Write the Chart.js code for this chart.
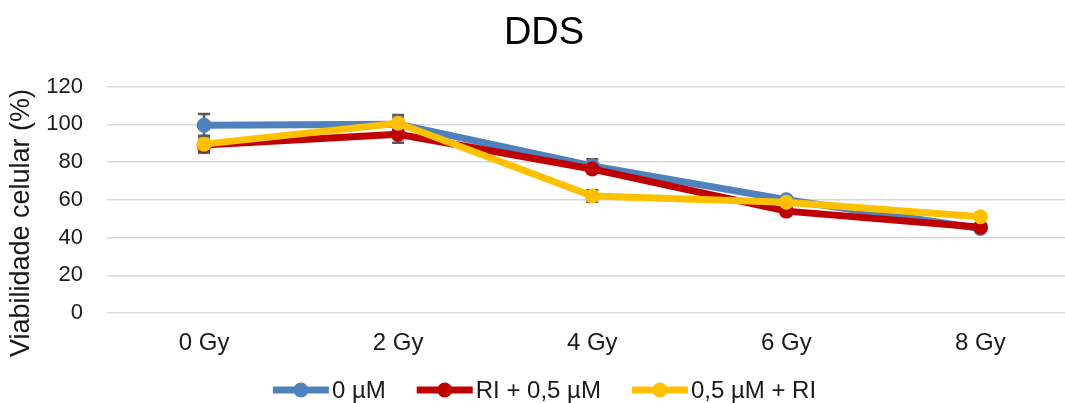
<!DOCTYPE html>
<html lang="pt">
<head>
<meta charset="utf-8">
<title>DDS</title>
<script src="https://cdn.jsdelivr.net/npm/chart.js@4/dist/chart.umd.min.js"></script>
<style>
  html, body { margin: 0; padding: 0; background: #ffffff; overflow: hidden; }
  #wrap { width: 1085px; height: 403px; }
</style>
</head>
<body>
<div id="wrap"><canvas id="chart" width="1085" height="403"></canvas></div>
<script>
// Dose categories and viability (%) per treatment group
const categories = ['0 Gy', '2 Gy', '4 Gy', '6 Gy', '8 Gy'];
const seriesNames = ['0 µM', 'RI + 0,5 µM', '0,5 µM + RI'];
const yAxisTitle = 'Viabilidade celular (%)';

const control      = [99.5, 100, 78, 60, 44.8];
const riThenDrug   = [89, 94.7, 76.3, 54, 45.5];
const drugThenRi   = [89.5, 100.6, 62, 58.7, 51];

// Standard deviations (±) for the error bars
const controlErr    = [6, 5, 3.5, 1.5, 1];
const riThenDrugErr = [3, 4.4, 2, 1.5, 1];
const drugThenRiErr = [4.5, 3, 3, 1.5, 1];

// Y axis range and step
const yMin = 0;
const yMax = 120;
const yStep = 20;

const seriesColors = ['#4F81BD', '#C00000', '#FFC000'];
const FONT = '"Liberation Sans", Arial, sans-serif';
const TEXT = '#1a1a1a';

// Error bars drawn under the markers, positioned through the chart scales
const errorBars = {
  id: 'errorBars',
  beforeDatasetsDraw(chart) {
    const { ctx, scales: { x, y } } = chart;
    const cap = 6;
    ctx.save();
    ctx.strokeStyle = '#595959';
    ctx.lineWidth = 2.5;
    chart.data.datasets.forEach((ds) => {
      ds.data.forEach((v, i) => {
        const e = ds.errors[i];
        const px = x.getPixelForValue(i);
        const top = y.getPixelForValue(v + e);
        const bot = y.getPixelForValue(v - e);
        ctx.beginPath();
        ctx.moveTo(px, top); ctx.lineTo(px, bot);
        ctx.moveTo(px - cap, top); ctx.lineTo(px + cap, top);
        ctx.moveTo(px - cap, bot); ctx.lineTo(px + cap, bot);
        ctx.stroke();
      });
    });
    ctx.restore();
  }
};

// Rotated value-axis title and a legend with line-and-marker swatches
const axisTitleAndLegend = {
  id: 'axisTitleAndLegend',
  afterDraw(chart) {
    const ctx = chart.ctx;
    ctx.save();
    ctx.fillStyle = TEXT;
    ctx.font = '27px ' + FONT;
    ctx.textAlign = 'center';
    ctx.textBaseline = 'middle';
    ctx.translate(22, 223);
    ctx.rotate(-Math.PI / 2);
    ctx.fillText(yAxisTitle, 0, 0);
    ctx.restore();

    const markW = 56, gap = 3, itemGap = 31;
    ctx.save();
    ctx.font = '24px ' + FONT;
    const items = chart.data.datasets.map((ds) => ({
      label: ds.label, color: ds.borderColor, w: ctx.measureText(ds.label).width
    }));
    const total = items.reduce((s, it) => s + markW + gap + it.w, 0) + itemGap * (items.length - 1);
    let x = chart.width / 2 - total / 2 + 2;
    const y = 390;
    items.forEach((it) => {
      ctx.strokeStyle = it.color;
      ctx.lineWidth = 7;
      ctx.beginPath();
      ctx.moveTo(x, y); ctx.lineTo(x + markW, y);
      ctx.stroke();
      ctx.fillStyle = it.color;
      ctx.beginPath();
      ctx.arc(x + markW / 2, y, 7.5, 0, Math.PI * 2);
      ctx.fill();
      ctx.fillStyle = TEXT;
      ctx.textBaseline = 'middle';
      ctx.textAlign = 'left';
      ctx.fillText(it.label, x + markW + gap, y + 1);
      x += markW + gap + it.w + itemGap;
    });
    ctx.restore();
  }
};

const makeSet = (label, data, errors, color, order) => ({
  label, data, errors,
  borderColor: color,
  backgroundColor: color,
  borderWidth: 7,
  pointRadius: 7.5,
  pointHoverRadius: 7.5,
  pointBorderWidth: 0,
  pointBackgroundColor: color,
  tension: 0,
  order
});

new Chart(document.getElementById('chart'), {
  type: 'line',
  data: {
    labels: categories,
    datasets: [
      makeSet(seriesNames[0], control, controlErr, seriesColors[0], 2),
      makeSet(seriesNames[1], riThenDrug, riThenDrugErr, seriesColors[1], 1),
      makeSet(seriesNames[2], drugThenRi, drugThenRiErr, seriesColors[2], 0)
    ]
  },
  options: {
    responsive: false,
    animation: false,
    layout: { padding: { left: 6, right: 3, top: 0, bottom: 45.6 } },
    plugins: {
      legend: { display: false },
      tooltip: { enabled: false },
      title: {
        display: true,
        text: 'DDS',
        color: '#000000',
        font: { family: FONT, size: 38, weight: 'normal', lineHeight: 1.2 },
        padding: { top: 11, bottom: 30 }
      }
    },
    scales: {
      x: {
        offset: true,
        grid: { display: false, drawTicks: false },
        border: { display: false },
        ticks: {
          color: TEXT,
          padding: 15.6,
          font: { family: FONT, size: 24, lineHeight: 1.2 }
        },
        afterFit(scale) { scale.height = 44.4; }
      },
      y: {
        min: yMin,
        max: yMax,
        grid: { color: '#d9d9d9', lineWidth: 1.5, drawTicks: false },
        border: { display: false },
        ticks: {
          stepSize: yStep,
          color: TEXT,
          padding: 24,
          font: { family: FONT, size: 22, lineHeight: 1.2 }
        },
        afterFit(scale) { scale.width = 101; }
      }
    }
  },
  plugins: [errorBars, axisTitleAndLegend]
});
</script>
</body>
</html>
